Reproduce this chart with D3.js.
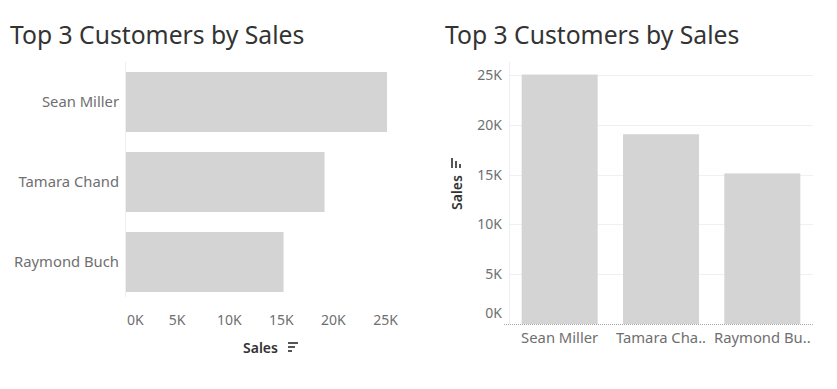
<!DOCTYPE html>
<html>
<head>
<meta charset="utf-8">
<script src="https://cdn.jsdelivr.net/npm/d3@7"></script>
<style>
  body { margin: 0; background: #fff; }
  svg { display: block; font-family: "Noto Sans", sans-serif; }
</style>
</head>
<body>
<div id="chart"></div>
<script>
var customers = ["Sean Miller", "Tamara Chand", "Raymond Buch"]
var sales = [25043, 19052, 15117]
var tickValues = [0, 5000, 10000, 15000, 20000, 25000]

var W = 837, H = 389
var barColor = "#d4d4d4"
var tickColor = "#6f6f6f"
var fmtK = function(d) { return (d / 1000) + "K" }

let svg = d3.select("#chart").append("svg")
    .attr("width", W)
    .attr("height", H)

// small sort icon: three lines getting shorter
function sortIcon(g) {
    [10, 7, 4].forEach(function(w, i) {
        g.append("rect").attr("x", 0).attr("y", i * 4).attr("width", w).attr("height", 2).attr("fill", "#555")
    })
}

// ---------- left: horizontal bars ----------
svg.append("text").attr("x", 10).attr("y", 44)
    .attr("font-size", 24.7).attr("fill", "#333")
    .text("Top 3 Customers by Sales")

let x = d3.scaleLinear().domain([0, 25043]).range([126, 387])
let y = d3.scaleBand().domain(customers).range([62, 302]).paddingInner(0.25).paddingOuter(0.125)

svg.append("line").attr("x1", 125.5).attr("x2", 125.5).attr("y1", 62).attr("y2", 297)
    .attr("stroke", "#eeeeee")

svg.selectAll(".hbar").data(customers).enter().append("rect")
    .attr("class", "hbar")
    .attr("x", x(0))
    .attr("y", d => y(d))
    .attr("width", (d, i) => x(sales[i]) - x(0))
    .attr("height", y.bandwidth())
    .attr("fill", barColor)

svg.selectAll(".hlab").data(customers).enter().append("text")
    .attr("class", "hlab")
    .attr("x", 119)
    .attr("y", d => y(d) + y.bandwidth() / 2 + 5)
    .attr("text-anchor", "end")
    .attr("font-size", 14.8)
    .attr("fill", tickColor)
    .text(d => d)

svg.selectAll(".xt").data(tickValues).enter().append("text")
    .attr("class", "xt")
    .attr("x", d => d === 0 ? x(d) + 1 : x(d) - 1)
    .attr("y", 325)
    .attr("text-anchor", d => d === 0 ? "start" : "middle")
    .attr("font-size", 14)
    .attr("fill", tickColor)
    .text(fmtK)

let xTitle = svg.append("g").attr("transform", "translate(243,353)")
xTitle.append("text").attr("font-size", 14).attr("font-weight", 600).attr("fill", "#333").text("Sales")
sortIcon(xTitle.append("g").attr("transform", "translate(45,-11)"))

// ---------- right: vertical bars ----------
svg.append("text").attr("x", 445).attr("y", 44)
    .attr("font-size", 24.7).attr("fill", "#333")
    .text("Top 3 Customers by Sales")

let yv = d3.scaleLinear().domain([0, 25000]).range([324, 75])
let xv = d3.scaleBand().domain(customers).range([509, 813]).paddingInner(0.25).paddingOuter(0.125)

// gridlines
svg.selectAll(".grid").data(tickValues.slice(1)).enter().append("line")
    .attr("class", "grid")
    .attr("x1", 509).attr("x2", 813)
    .attr("y1", d => Math.round(yv(d)) + 0.5).attr("y2", d => Math.round(yv(d)) + 0.5)
    .attr("stroke", "#f0f0f0")

svg.append("line").attr("x1", 509.5).attr("x2", 509.5).attr("y1", 62).attr("y2", 324)
    .attr("stroke", "#eeeeee")

svg.selectAll(".vbar").data(customers).enter().append("rect")
    .attr("class", "vbar")
    .attr("x", d => xv(d))
    .attr("y", (d, i) => yv(sales[i]))
    .attr("width", xv.bandwidth())
    .attr("height", (d, i) => yv(0) - yv(sales[i]))
    .attr("fill", barColor)

svg.append("line").attr("x1", 504).attr("x2", 813).attr("y1", 324.5).attr("y2", 324.5)
    .attr("stroke", "#aaaaaa").attr("stroke-dasharray", "1,1")

svg.selectAll(".yt").data(tickValues).enter().append("text")
    .attr("class", "yt")
    .attr("x", 502)
    .attr("y", d => d === 0 ? yv(d) - 6 : yv(d) + 5)
    .attr("text-anchor", "end")
    .attr("font-size", 14)
    .attr("fill", tickColor)
    .text(fmtK)

// x labels, cut to fit the band like Tableau does
function fitLabel(node, label, maxW) {
    let t = d3.select(node).text(label)
    if (node.getComputedTextLength() <= maxW) return
    let s = label
    while (s.length > 1) {
        s = s.slice(0, -1)
        t.text(s.trimEnd() + "..")
        if (node.getComputedTextLength() <= maxW) return
    }
}

svg.selectAll(".vlab").data(customers).enter().append("text")
    .attr("class", "vlab")
    .attr("x", d => xv(d) + xv.bandwidth() / 2)
    .attr("y", 343)
    .attr("text-anchor", "middle")
    .attr("font-size", 14.8)
    .attr("fill", tickColor)
    .each(function(d) { fitLabel(this, d, 98) })

let yTitle = svg.append("g").attr("transform", "translate(462,210) rotate(-90)")
yTitle.append("text").attr("font-size", 14).attr("font-weight", 600).attr("fill", "#333").text("Sales")
sortIcon(yTitle.append("g").attr("transform", "translate(42,-11)"))
</script>
</body>
</html>
